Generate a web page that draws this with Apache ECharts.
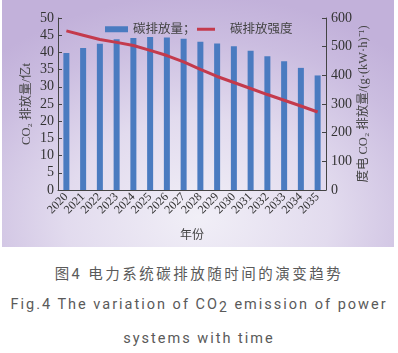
<!DOCTYPE html>
<html>
<head>
<meta charset="utf-8">
<script src="https://cdn.jsdelivr.net/npm/echarts@6/dist/echarts.min.js"></script>
<style>
  html, body { margin: 0; padding: 0; background: #fff; }
  #wrap { position: relative; width: 398px; height: 353px; overflow: hidden; }
  #chart {
    position: absolute; left: 2px; top: 0; width: 392px; height: 247px;
    background: radial-gradient(ellipse 75% 90% at 50% 88%, #f1eff7 0%, #e2dbee 45%, #cbbde0 80%, #c2b1da 100%);
  }
  .cap {
    position: absolute; left: 0; width: 398px; text-align: center;
    font-family: Roboto, "Noto Sans CJK SC", sans-serif; color: #5a5a5a;
    font-size: 14.5px; letter-spacing: 2px; white-space: nowrap;
  }
  .cap sub { font-size: 14px; vertical-align: -3px; line-height: 0; }
</style>
</head>
<body>
<div id="wrap">
  <div id="chart"></div>
  <div class="cap" style="top:262px; letter-spacing:2.5px;">图4 电力系统碳排放随时间的演变趋势</div>
  <div class="cap" style="top:296px;">Fig.4 The variation of CO<sub>2</sub> emission of power</div>
  <div class="cap" style="top:330px;">systems with time</div>
</div>
<script>
// 数据
const years = ["2020", "2021", "2022", "2023", "2024", "2025", "2026", "2027",
               "2028", "2029", "2030", "2031", "2032", "2033", "2034", "2035"];
const emission = [39.8, 41.3, 42.5, 43.8, 44.2, 44.5, 44.3, 44.0,
                  43.1, 42.6, 41.8, 40.5, 38.9, 37.4, 35.5, 33.3];
const intensity = [555, 540, 525, 515, 504, 487, 469, 447,
                   421, 396, 375, 354, 333, 313, 293, 272];

const serif = "'Liberation Serif', 'Times New Roman', 'Noto Sans CJK SC', serif";
const axisColor = "#444";

const chart = echarts.init(document.getElementById("chart"));
chart.setOption({
  animation: false,
  grid: { left: 56, right: 68, top: 18, bottom: 55 },
  legend: [
    {
      data: ["碳排放量"],
      left: 98, top: 18,
      icon: "rect", itemWidth: 23, itemHeight: 6,
      formatter: n => n + "；",
      textStyle: { fontFamily: serif, fontSize: 12.5, color: "#444" }
    },
    {
      data: ["碳排放强度"],
      left: 190, top: 18,
      icon: "rect", itemWidth: 18, itemHeight: 3,
      textStyle: { fontFamily: serif, fontSize: 12.5, color: "#444", padding: [0, 0, 0, 10] }
    }
  ],
  xAxis: {
    type: "category",
    data: years,
    name: "年份",
    nameLocation: "middle",
    nameGap: 40,
    nameTextStyle: { fontFamily: serif, fontSize: 12, color: "#444" },
    axisLine: { lineStyle: { color: axisColor, width: 1 } },
    axisTick: { inside: true, length: 4, lineStyle: { color: axisColor } },
    axisLabel: { interval: 0, rotate: 45, fontFamily: serif, fontSize: 12, color: "#333", margin: 5 }
  },
  yAxis: [
    {
      type: "value", min: 0, max: 50, interval: 5,
      name: "CO₂ 排放量/亿t",
      nameLocation: "middle", nameGap: 25, nameRotate: 90,
      nameMoveOverlap: false,
      nameTextStyle: { fontFamily: serif, fontSize: 12.5, color: "#444" },
      axisLine: { show: true, lineStyle: { color: axisColor } },
      axisTick: { show: true, inside: true, length: 4, lineStyle: { color: axisColor } },
      axisLabel: { fontFamily: serif, fontSize: 14, color: "#333", margin: 4 },
      splitLine: { show: false }
    },
    {
      type: "value", min: 0, max: 600, interval: 100,
      name: "度电 CO₂ 排放量/(g·(kW·h)⁻¹)",
      nameLocation: "middle", nameGap: 31, nameRotate: 90,
      nameMoveOverlap: false,
      nameTextStyle: { fontFamily: serif, fontSize: 12.5, color: "#444" },
      axisLine: { show: true, lineStyle: { color: axisColor } },
      axisTick: { show: true, inside: true, length: 4, lineStyle: { color: axisColor } },
      axisLabel: { fontFamily: serif, fontSize: 14, color: "#333", margin: 5 },
      splitLine: { show: false }
    }
  ],
  series: [
    {
      name: "碳排放量",
      type: "bar",
      data: emission,
      barWidth: 6,
      itemStyle: { color: "#4a7bc0" }
    },
    {
      name: "碳排放强度",
      type: "line",
      yAxisIndex: 1,
      data: intensity,
      showSymbol: false,
      lineStyle: { color: "#c43a4c", width: 3 },
      itemStyle: { color: "#c43a4c" }
    }
  ]
});
</script>
</body>
</html>
